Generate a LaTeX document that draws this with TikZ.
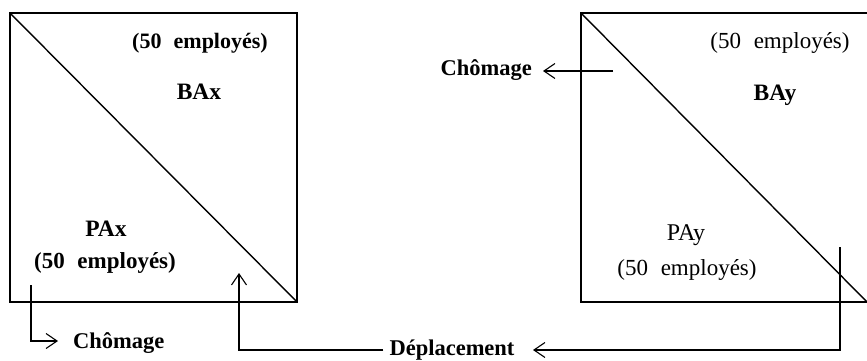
\documentclass[tikz,border=0pt]{standalone}
\usepackage{fontspec}
\setmainfont{Liberation Serif}
\usetikzlibrary{arrows.meta}
\begin{document}
\begin{tikzpicture}[x=1pt,y=-1pt,
  edge/.style={line width=1.4pt},
  conn/.style={line width=1.1pt},
  tip/.style={-{Straight Barb[length=11pt,width=15pt,line width=1.1pt]}},
  bb/.style={font=\fontsize{22}{26}\selectfont\bfseries, inner sep=0pt},
  rr/.style={font=\fontsize{23}{27}\selectfont, inner sep=0pt},
  lab/.style={font=\fontsize{22.5}{25}\selectfont\bfseries, inner sep=0pt}]
\useasboundingbox (0,0) rectangle (867,361);
% left box
\draw[edge] (10,13) rectangle (297,302);
\draw[edge] (10,13) -- (297,302);
% right box (cut at the right)
\draw[edge] (867,13) -- (581,13) -- (581,302) -- (867,302);
\draw[edge] (581,13) -- (867,302);
% texts
\node[bb] (bxn) at (200,43) {(50\hspace{0.55em}employés)};
\node[bb,font=\fontsize{23.5}{26}\selectfont\bfseries] (bax) at (199,91.5) {BAx};
\node[bb,font=\fontsize{23.5}{26}\selectfont\bfseries] (pax) at (106,229) {PAx};
\node[bb,font=\fontsize{23}{27}\selectfont\bfseries] (pxn) at (105,263) {(50\hspace{0.55em}employés)};
\node[rr] (byn) at (780,43) {(50\hspace{0.55em}employés)};
\node[bb,font=\fontsize{23.5}{26}\selectfont\bfseries] (bay) at (775,95) {BAy};
\node[rr,font=\fontsize{24}{27}\selectfont] (pay) at (686,235.5) {PAy};
\node[rr] (pyn) at (687,270) {(50\hspace{0.55em}employés)};
\node[lab,anchor=base east] (chr) at (532,75) {Chômage};
\node[lab,anchor=base west] (chl) at (73,348) {Chômage};
\node[lab,anchor=base] (dep) at (452,355) {Déplacement};
% connectors
\coordinate (cls) at (31,285);
\coordinate (clc) at (31,341);
\coordinate (clt) at (58,341);
\draw[conn,tip] (cls) -- (clc) -- (clt);
\coordinate (crs) at (613,71);
\coordinate (crt) at (543,71);
\draw[conn,tip] (crs) -- (crt);
\coordinate (dlc) at (239,350);
\coordinate (dlt) at (239,273);
\draw[conn,tip] (dep.west |- dlc) ++(-6,0) -- (dlc) -- (dlt);
\coordinate (drs) at (840,247);
\coordinate (drc) at (840,350);
\coordinate (drt) at (533,350);
\draw[conn,tip] (drs) -- (drc) -- (drt);
\end{tikzpicture}
\end{document}
